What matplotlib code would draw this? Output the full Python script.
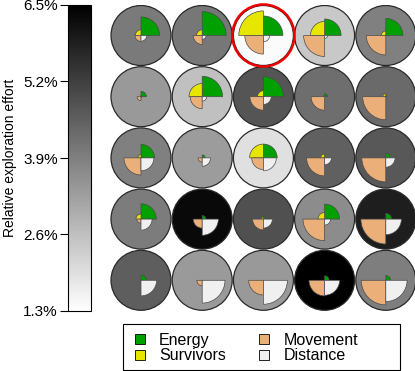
import matplotlib
matplotlib.use("Agg")
import matplotlib.pyplot as plt
from matplotlib.patches import Circle, Wedge, Patch, Rectangle
from matplotlib.colors import Normalize
from matplotlib.cm import ScalarMappable

plt.rcParams['font.family'] = ['Liberation Sans', 'DejaVu Sans']

# Relative exploration effort (%) per cell, rows top to bottom
effort = [
    [4.01, 4.07, 1.40, 2.42, 3.89],
    [3.38, 2.58, 4.77, 4.26, 4.34],
    [3.89, 3.32, 1.93, 4.54, 4.71],
    [3.97, 6.30, 4.87, 3.65, 5.89],
    [4.58, 3.36, 3.38, 6.50, 3.93],
]

# wedge sizes (fraction of the cell circle radius, 1.0 = full)
energy = [
    [0.62, 0.80, 0.65, 0.55, 0.57],
    [0.18, 0.68, 0.67, 0.10, 0.03],
    [0.45, 0.10, 0.46, 0.00, 0.16],
    [0.51, 0.12, 0.07, 0.50, 0.19],
    [0.18, 0.00, 0.00, 0.15, 0.16],
]
survivors = [
    [0.19, 0.19, 0.82, 0.47, 0.15],
    [0.03, 0.44, 0.20, 0.04, 0.10],
    [0.11, 0.00, 0.46, 0.13, 0.00],
    [0.17, 0.00, 0.07, 0.22, 0.00],
    [0.00, 0.00, 0.00, 0.00, 0.00],
]
movement = [
    [0.20, 0.30, 0.62, 0.70, 0.65],
    [0.13, 0.40, 0.45, 0.45, 0.77],
    [0.57, 0.14, 0.39, 0.60, 0.80],
    [0.14, 0.30, 0.36, 0.72, 0.83],
    [0.00, 0.18, 0.49, 0.52, 0.82],
]
distance = [
    [0.19, 0.13, 0.21, 0.10, 0.00],
    [0.03, 0.15, 0.26, 0.00, 0.00],
    [0.43, 0.28, 0.43, 0.23, 0.31],
    [0.37, 0.54, 0.30, 0.20, 0.52],
    [0.52, 0.76, 0.80, 0.50, 0.71],
]
highlight = (0, 2)

labels = ["Energy", "Survivors", "Movement", "Distance"]
colors = ["#00a000", "#e6e600", "#ebb07a", "#f0f0f0"]
vmin, vmax = 1.3, 6.5
cb_ticks = [1.3, 2.6, 3.9, 5.2, 6.5]

cmap = plt.get_cmap("gray_r")
norm = Normalize(vmin, vmax)

fig = plt.figure(figsize=(4.15, 3.71), dpi=100)

# main grid of circles
ax = fig.add_axes([110.4 / 415, (371 - 310.9) / 371, 306 / 415, 306 / 371])
ax.set_xlim(-0.5, 4.5)
ax.set_ylim(4.5, -0.5)
ax.axis("off")

R = 0.49
for i in range(5):
    for j in range(5):
        ax.add_patch(Circle((j, i), R, facecolor=cmap(norm(effort[i][j])),
                            edgecolor="#2a2a2a", lw=0.9))
        sizes = [energy[i][j], survivors[i][j], movement[i][j], distance[i][j]]
        for k in range(4):
            if sizes[k] <= 0:
                continue
            # y axis is inverted, so angles go clockwise on screen
            ax.add_patch(Wedge((j, i), sizes[k] * R, -90 * (k + 1), -90 * k,
                               facecolor=colors[k], edgecolor="#4a4a4a", lw=0.5))

ax.add_patch(Circle((highlight[1], highlight[0]), 0.507, facecolor="none",
                    edgecolor="#ee0000", lw=1.8, clip_on=False))

# colorbar
cax = fig.add_axes([68 / 415, (371 - 311) / 371, 23 / 415, 306 / 371])
sm = ScalarMappable(norm=norm, cmap=cmap)
cb = fig.colorbar(sm, cax=cax, ticks=cb_ticks)
cb.ax.yaxis.set_ticks_position("left")
cb.ax.yaxis.set_label_position("left")
cb.ax.set_yticklabels(["%.1f%%" % t for t in cb_ticks], fontsize=11)
cb.ax.tick_params(length=6, width=0.8, pad=1.5)
cb.outline.set_linewidth(0.8)
cb.set_label("Relative exploration effort", fontsize=10, labelpad=4)

# legend: entries without frame, box drawn separately (wider than the text)
handles = [Patch(facecolor=c, edgecolor="black", lw=0.6, label=l)
           for c, l in zip(colors, labels)]
fig.legend(handles=handles, ncol=2, loc="center left",
           bbox_to_anchor=(135 / 415, 1 - 348 / 371), fontsize=11.5,
           frameon=False, borderpad=0, borderaxespad=0,
           handlelength=0.6, handleheight=0.6, handletextpad=0.9,
           columnspacing=2.1, labelspacing=0.05)
fig.add_artist(Rectangle((123 / 415, 1 - 370 / 371), 277 / 415, 46 / 371,
                         transform=fig.transFigure, fill=False,
                         edgecolor="black", lw=0.8))

fig.savefig("out.png", dpi=100)
